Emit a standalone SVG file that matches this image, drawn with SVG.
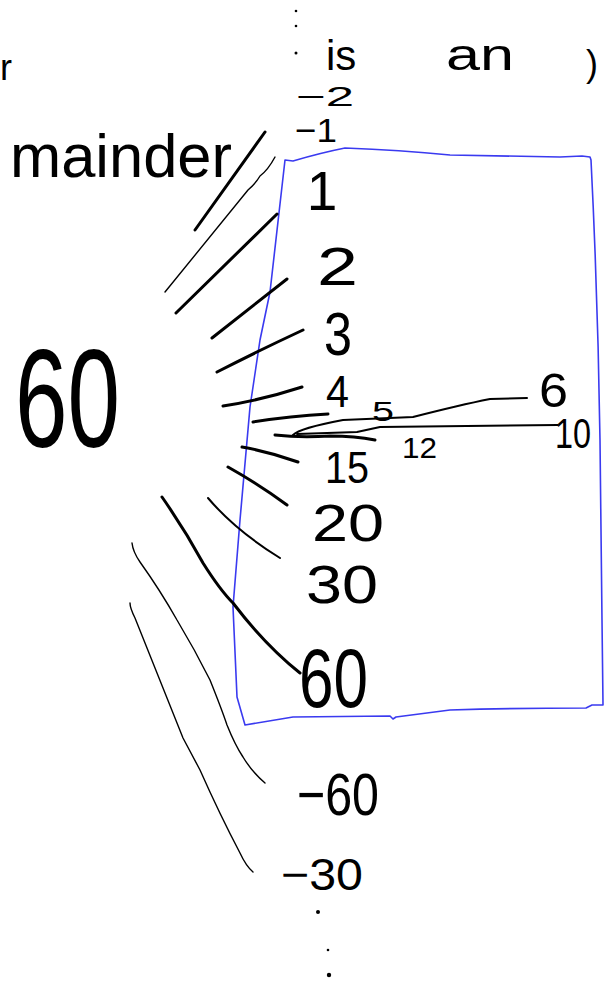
<svg xmlns="http://www.w3.org/2000/svg" width="606" height="981" viewBox="0 0 606 981">
<style>
text{font-family:"Liberation Sans",Arial,sans-serif;fill:#000}
.s{fill:none;stroke:#000;stroke-linecap:round;stroke-linejoin:round}
.w3{stroke-width:3}
.w2{stroke-width:2}
.w1{stroke-width:1.4}
.box{fill:none;stroke:#3a3af0;stroke-width:1.6;stroke-linejoin:round}
</style>
<rect width="606" height="981" fill="#fff"/>
<g id="box"><path class="box" d="M285,160 L293,161 Q320,153 345,148 Q400,150 450,155 L560,157 L582,156 L590,157 L591,160 Q598,300 600,440 L602,620 L603,705 L592,705 L586,708 Q520,708 450,710 L396,717 L393,719 L390,716 L293,717 L245,725 L237,697 L233,607 L240,520 L250,407 L260,340 L270,292 Z"/></g>
<g id="connectors">
<path class="s w3" d="M265,132 L195,230"/>
<path class="s w1" d="M275,157 Q268,170 260,176 Q256,183 248,190 L165,292"/>
<path class="s w3" d="M277,214 L176,313"/>
<path class="s w3" d="M287,279 L212,338"/>
<path class="s w3" d="M303,330 Q260,350 217,372"/>
<path class="s w3" d="M302,387 Q262,400 223,406"/>
<path class="s w3" d="M328,414 Q290,416 253,422"/>
<path class="s w2" d="M293,435 Q300,428 343,420 L413,417 Q460,405 490,399 L527,398"/>
<path class="s w2" d="M297,434 Q330,433 357,432 L380,427 L558,425"/>
<path class="s w3" d="M275,435 Q300,438 330,436 Q355,436 375,440"/>
<path class="s w3" d="M242,447 Q270,452 298,462"/>
<path class="s w3" d="M228,467 Q260,485 287,505"/>
<path class="s w2" d="M208,498 Q235,530 280,558"/>
<path class="s w3" d="M162,497 Q185,530 203,563 Q220,590 233,603 Q265,645 300,673"/>
<path class="s w1" d="M132,543 Q133,552 140,562 Q160,590 177,620 Q195,650 210,680 Q222,710 227,725 Q235,745 243,757 Q252,772 265,783"/>
<path class="s w1" d="M130,603 Q130,608 135,618 Q160,680 183,738 Q192,755 200,770 Q220,815 240,853 Q246,866 253,872"/>
</g>
<g id="top-dots"><circle cx="296" cy="11" r="1.3"/><circle cx="296" cy="26" r="1.3"/><circle cx="296" cy="53" r="1.5"/></g>
<g id="bottom-dots"><circle cx="318" cy="912" r="2"/><circle cx="328" cy="950" r="1.3"/><circle cx="329" cy="975" r="2.2"/></g>
<g id="t-r"><text x="0" y="80" font-size="36">r</text></g>
<g id="t-is"><text x="326" y="70" font-size="42">is</text></g>
<g id="t-an"><text x="446" y="70" font-size="44" textLength="68" lengthAdjust="spacingAndGlyphs">an</text></g>
<g id="t-paren"><text x="586" y="76" font-size="36">)</text></g>
<g id="t-mainder"><text x="10" y="177" font-size="62" textLength="222" lengthAdjust="spacingAndGlyphs">mainder</text></g>
<g id="t-60big"><text transform="translate(15,447) scale(1,1.4)" x="0" y="0" font-size="100" textLength="105" lengthAdjust="spacingAndGlyphs">60</text></g>
<g id="n-m2"><text x="296" y="106" font-size="28" textLength="58" lengthAdjust="spacingAndGlyphs">−2</text></g>
<g id="n-m1"><text x="295" y="142" font-size="34" textLength="42" lengthAdjust="spacingAndGlyphs">−1</text></g>
<g id="n-1"><text x="322" y="210" font-size="55" text-anchor="middle">1</text></g>
<g id="n-2"><text x="317" y="285" font-size="53" textLength="41" lengthAdjust="spacingAndGlyphs">2</text></g>
<g id="n-3"><text x="324" y="355" font-size="62" textLength="28" lengthAdjust="spacingAndGlyphs">3</text></g>
<g id="n-4"><text x="326" y="407" font-size="44" textLength="23" lengthAdjust="spacingAndGlyphs">4</text></g>
<g id="n-5"><text x="372" y="421" font-size="28" textLength="22" lengthAdjust="spacingAndGlyphs">5</text></g>
<g id="n-6"><text x="539" y="407" font-size="48" textLength="29" lengthAdjust="spacingAndGlyphs">6</text></g>
<g id="n-10"><text x="555" y="448" font-size="42" textLength="36" lengthAdjust="spacingAndGlyphs">10</text></g>
<g id="n-12"><text x="402" y="458" font-size="29" textLength="35" lengthAdjust="spacingAndGlyphs">12</text></g>
<g id="n-15"><text x="325" y="483" font-size="45" textLength="44" lengthAdjust="spacingAndGlyphs">15</text></g>
<g id="n-20"><text x="312" y="541" font-size="52" textLength="72" lengthAdjust="spacingAndGlyphs">20</text></g>
<g id="n-30"><text x="306" y="603" font-size="54" textLength="72" lengthAdjust="spacingAndGlyphs">30</text></g>
<g id="n-60"><text x="299" y="707" font-size="84" textLength="69" lengthAdjust="spacingAndGlyphs">60</text></g>
<g id="n-m60"><text x="297" y="815" font-size="60" textLength="82" lengthAdjust="spacingAndGlyphs">−60</text></g>
<g id="n-m30"><text x="281" y="890" font-size="45" textLength="82" lengthAdjust="spacingAndGlyphs">−30</text></g>
</svg>
